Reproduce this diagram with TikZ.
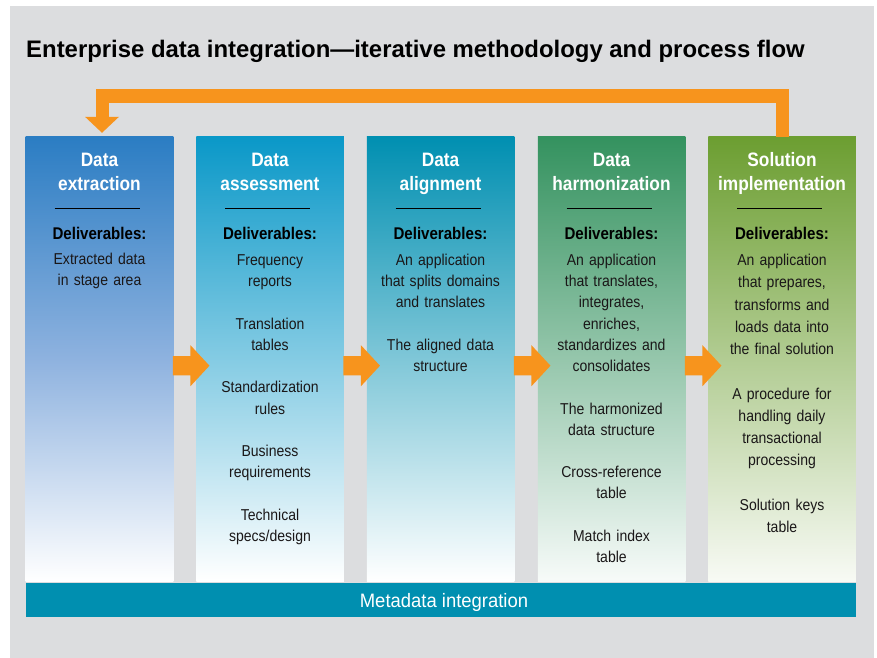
\documentclass[tikz,border=0pt]{standalone}
\usepackage{fontspec}
\setmainfont{Liberation Sans}
\newfontfamily\cond{Liberation Sans}[FakeStretch=0.89]
\newfontfamily\semicond{Liberation Sans}[FakeStretch=0.95]
\usetikzlibrary{calc}
\definecolor{bggrey}{HTML}{DCDDDF}
\definecolor{orng}{HTML}{F7941D}
\definecolor{barblue}{HTML}{008FB0}
\definecolor{txt}{HTML}{1A1718}
\definecolor{cA}{HTML}{2B7DC3}
\definecolor{cAm}{HTML}{8EB2DF}
\definecolor{cB}{HTML}{0A98C8}
\definecolor{cC}{HTML}{008FB1}
\definecolor{cD}{HTML}{34925F}
\definecolor{cE}{HTML}{6C9E31}
\newcommand\blockarrow[1]{%
  \fill[orng] ($(#1.east)+(-0.5,6.7)$) ++(0,-9.6) -- ++(17.5,0) -- ++(0,-10.9)
    -- ++(19,20.5) -- ++(-19,20.5) -- ++(0,-10.9) -- ++(-17.5,0) -- cycle;}
\begin{document}
\begin{tikzpicture}[x=1bp,y=-1bp,
  col/.style={rectangle, inner sep=0, draw=none, minimum width=147.5bp, minimum height=444bp},
  head/.style={anchor=base, inner sep=0, text width=147bp, align=center, text=white,
    font=\cond\bfseries\fontsize{19.5}{24}\selectfont},
  deliv/.style={anchor=base, inner sep=0, text width=147bp, align=center, text=black,
    font=\cond\bfseries\fontsize{17}{20}\selectfont},
  body/.style={anchor=base, inner sep=0, text width=147bp, align=center, text=txt,
    font=\cond\fontsize{15.8}{21.3}\selectfont},
  bodywide/.style={body, font=\cond\fontsize{15.8}{22.3}\selectfont},
  rulestyle/.style={draw=black, line width=1.2bp},
]
\useasboundingbox (0,0) rectangle (877,658);
\fill[white] (0,0) rectangle (877,658);
\fill[bggrey] (10,6) rectangle (874,658);

\node[anchor=base west, inner sep=0, font=\bfseries\fontsize{24}{27}\selectfont] (title) at (26,57.5)
  {Enterprise data integration---iterative methodology and process flow};

% columns
\node[col, top color=cA, bottom color=white, middle color=cAm] (c1) at (99.5,359) {};
\node[col, top color=cB, bottom color=white] (c2) at (270,359) {};
\node[col, top color=cC, bottom color=white] (c3) at (440.5,359) {};
\node[col, top color=cD, bottom color=white!96!cD] (c4) at (611.5,359) {};
\node[col, top color=cE, bottom color=white!95!cE] (c5) at (782,359) {};

% metadata bar
\node[rectangle, inner sep=0, fill=barblue, minimum width=830bp, minimum height=34bp] (meta) at (441,600) {};
\node[anchor=base, inner sep=0, text=white, font=\semicond\fontsize{19.5}{22}\selectfont] (metatext) at (444,607.7) {Metadata integration};

% headers
\node[head] (h1) at (99.5,166.7) {Data\\extraction};
\node[head] (h2) at (270,166.7) {Data\\assessment};
\node[head] (h3) at (440.5,166.7) {Data\\alignment};
\node[head] (h4) at (611.5,166.7) {Data\\harmonization};
\node[head] (h5) at (782,166.7) {Solution\\implementation};

% rules
\foreach \c in {c1,c2,c3,c4,c5}{
  \draw[rulestyle] ($(\c.north)+(-45,72)$) -- ($(\c.north)+(40,72)$);
}

% deliverables
\node[deliv] (d1) at (99.5,239.3) {Deliverables:};
\node[deliv] (d2) at (270,239.3) {Deliverables:};
\node[deliv] (d3) at (440.5,239.3) {Deliverables:};
\node[deliv] (d4) at (611.5,239.3) {Deliverables:};
\node[deliv] (d5) at (782,239.3) {Deliverables:};

% bodies
\node[body] (b1) at (99.5,264.5) {Extracted data\\in stage area};
\node[body] (b2) at (270,265.5) {Frequency\\reports\\[\baselineskip]Translation\\tables\\[\baselineskip]Standardization\\rules\\[\baselineskip]Business\\requirements\\[\baselineskip]Technical\\specs/design};
\node[body] (b3) at (440.5,265.5) {An application\\that splits domains\\and translates\\[\baselineskip]The aligned data\\structure};
\node[body] (b4) at (611.5,265.5) {An application\\that translates,\\integrates,\\enriches,\\standardizes and\\consolidates\\[\baselineskip]The harmonized\\data structure\\[\baselineskip]Cross-reference\\table\\[\baselineskip]Match index\\table};
\node[bodywide] (b5) at (782,265.7) {An application\\that prepares,\\transforms and\\loads data into\\the final solution\\[\baselineskip]A procedure for\\handling daily\\transactional\\processing\\[\baselineskip]Solution keys\\table};

% forward arrows
\blockarrow{c1}
\blockarrow{c2}
\blockarrow{c3}
\blockarrow{c4}

% feedback loop
\draw[orng, line width=13.5bp, line join=miter, line cap=butt]
  ($(c5.north)+(0.5,0)$) -- ++(0,-41) -| ($(c1.north)+(3,-18)$);
\fill[orng] ($(c1.north)+(-14.5,-20)$) -- ($(c1.north)+(19.5,-20)$) -- ($(c1.north)+(2.5,-4)$) -- cycle;
\end{tikzpicture}
\end{document}
